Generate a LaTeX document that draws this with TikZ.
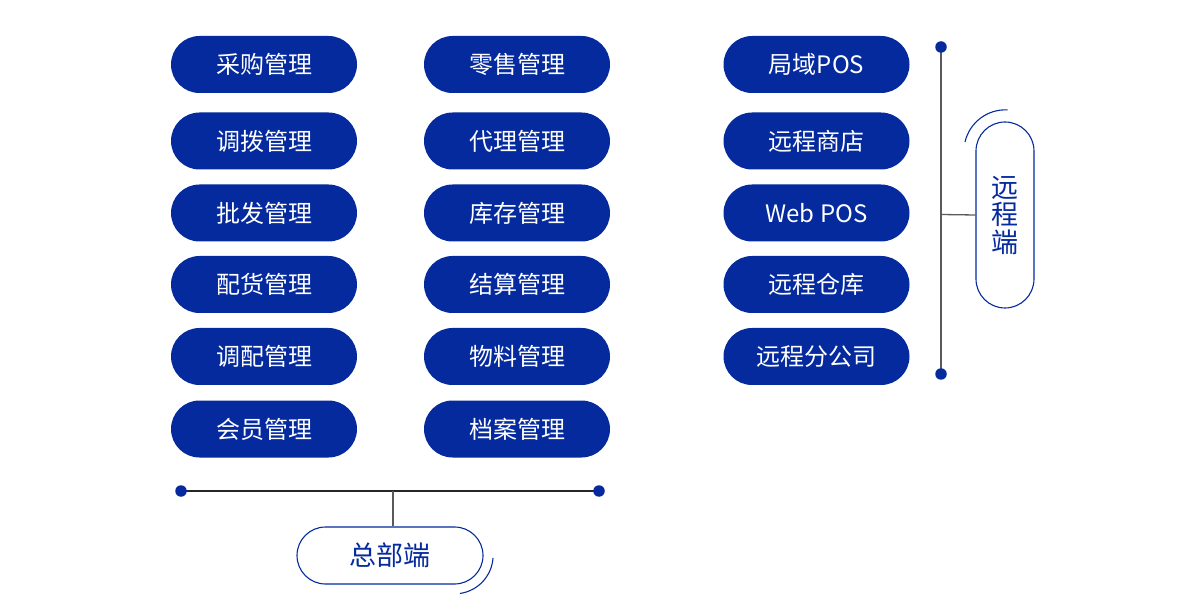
\documentclass[tikz,border=0pt]{standalone}
\usepackage{fontspec}
\setmainfont{Noto Sans CJK SC}
\definecolor{mblue}{RGB}{4,42,158}
\definecolor{lgrey}{RGB}{90,90,90}
\begin{document}
\begin{tikzpicture}[x=1pt,y=-1pt,
  pill/.style={draw=none,fill=mblue,text=white,rectangle,rounded corners=28.5pt,
    minimum width=186pt,minimum height=57pt,inner sep=0pt,
    font=\fontsize{24pt}{26pt}\selectfont,text height=19.5pt,text depth=1pt},
  opill/.style={draw=mblue,line width=1.1pt,fill=white,text=mblue,rectangle,inner sep=0pt,
    font=\fontsize{27pt}{27.5pt}\selectfont},
  dot/.style={circle,fill=mblue,draw=none,minimum size=11.5pt,inner sep=0pt},
  bline/.style={draw=black!85,line width=1.2pt},
  gline/.style={draw=lgrey,line width=1.3pt},
  swoosh/.style={draw=mblue,line width=1.1pt}]
\useasboundingbox (0,0) rectangle (1200,612);
% column 1
\node[pill] (a1) at (264,64.5) {采购管理};
\node[pill] (a2) at (264,141) {调拨管理};
\node[pill] (a3) at (264,213) {批发管理};
\node[pill] (a4) at (264,284.5) {配货管理};
\node[pill] (a5) at (264,356.5) {调配管理};
\node[pill] (a6) at (264,429) {会员管理};
% column 2
\node[pill] (b1) at (517,64.5) {零售管理};
\node[pill] (b2) at (517,141) {代理管理};
\node[pill] (b3) at (517,213) {库存管理};
\node[pill] (b4) at (517,284.5) {结算管理};
\node[pill] (b5) at (517,356.5) {物料管理};
\node[pill] (b6) at (517,429) {档案管理};
% column 3
\node[pill] (c1) at (816.5,64.5) {局域POS};
\node[pill] (c2) at (816.5,141) {远程商店};
\node[pill] (c3) at (816.5,213) {Web POS};
\node[pill] (c4) at (816.5,284.5) {远程仓库};
\node[pill] (c5) at (816.5,356.5) {远程分公司};
% bottom connector
\coordinate (bl) at (181,491);
\coordinate (br) at (599,491);
\coordinate (bj) at (393,491);
\node[opill,rounded corners=28.5pt,minimum width=186pt,minimum height=57pt,
  text height=21pt,text depth=1pt] (hq) at (390,555.5) {总部端};
\draw[bline] (bl) -- (br);
\draw[gline] (bj) -- (bj |- hq.north);
\node[dot] at (bl) {};
\node[dot] at (br) {};
\draw[swoosh] (493,558) arc[start angle=-4,end angle=-82,radius=38.5pt];
% right connector
\coordinate (rt) at (941,47);
\coordinate (rb) at (941,374);
\coordinate (rj) at (941,214.5);
\node[opill,rounded corners=29pt,minimum width=58pt,minimum height=186pt,align=center]
  (rem) at (1005,215) {远\\程\\端};
\draw[gline] (rt) -- (rb);
\draw[gline] (rj) -- (rem.west);
\node[dot] at (rt) {};
\node[dot] at (rb) {};
\draw[swoosh] (965,142) arc[start angle=167,end angle=87,radius=41.5pt];
\end{tikzpicture}
\end{document}
